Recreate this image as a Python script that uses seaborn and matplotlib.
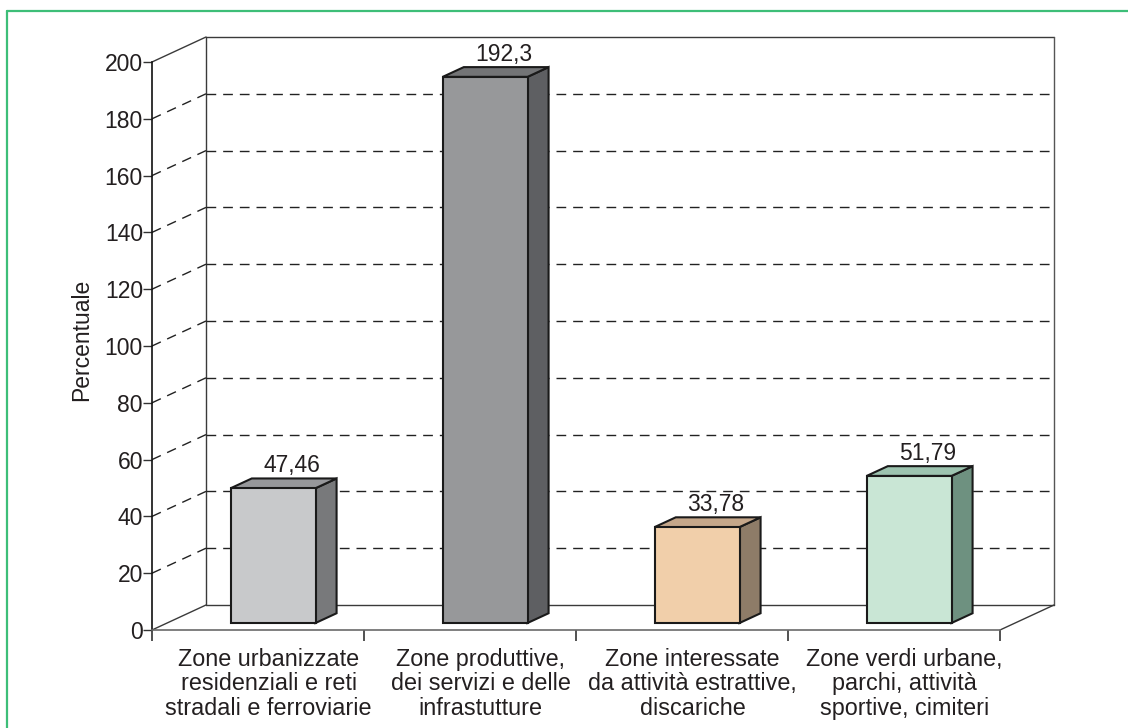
import numpy as np
import matplotlib
matplotlib.use('Agg')
import matplotlib.pyplot as plt
from matplotlib.patches import Polygon
from matplotlib.lines import Line2D
import seaborn as sns

# Data
categories = [
    "Zone urbanizzate\nresidenziali e reti\nstradali e ferroviarie",
    "Zone produttive,\ndei servizi e delle\ninfrastutture",
    "Zone interessate\nda attività estrattive,\ndiscariche",
    "Zone verdi urbane,\nparchi, attività\nsportive, cimiteri",
]
values = [47.46, 192.3, 33.78, 51.79]
yticks = [0, 20, 40, 60, 80, 100, 120, 140, 160, 180, 200]

front_colors = ['#C8C9CB', '#97989A', '#F1CFAA', '#C9E6D5']
top_colors = ['#96979A', '#737476', '#C5A78A', '#9DC4B0']
side_colors = ['#78797B', '#5E5F62', '#8E7C68', '#6E9180']

TXT = '#231F20'

sns.set_style('white')
plt.rcParams['font.family'] = ['Liberation Sans', 'DejaVu Sans']

fig = plt.figure(figsize=(11.28, 7.28), dpi=100)
ax = fig.add_axes([152 / 1128, 98 / 728, 848 / 1128, 568 / 728])

# 3D depth vector (in data units) and bar depth placement
DX, DY = 54 / 212, 25 / 2.84
d0, d1 = 0.28, 0.67
BW = 0.40

sns.barplot(x=list(range(len(values))), y=values, hue=list(range(len(values))),
            palette=front_colors, legend=False, width=BW, ax=ax,
            edgecolor='#1a1a1a', linewidth=1.5, saturation=1, zorder=5)

ax.set_xlim(-0.5, 3.5)
ax.set_ylim(0, 200)

# back wall & left wall
x0, x1 = -0.5, 3.5
wall = dict(color='#3a3a3a', lw=1.0, clip_on=False, zorder=1)
ax.plot([x0 + DX, x1 + DX], [200 + DY, 200 + DY], **wall)
ax.plot([x1 + DX, x1 + DX], [DY, 200 + DY], color='#555555', lw=1.0, clip_on=False, zorder=1)
ax.plot([x0 + DX, x0 + DX], [DY, 200 + DY], **wall)
ax.plot([x0 + DX, x1 + DX], [DY, DY], **wall)
ax.plot([x0, x0 + DX], [200, 200 + DY], **wall)
ax.plot([x0, x0 + DX], [0, DY], **wall)
ax.plot([x1, x1 + DX], [0, DY], **wall)

for v in yticks[1:-1]:
    dash = dict(color='#222222', lw=1.0, ls=(0, (7, 5)), clip_on=False, zorder=1)
    ax.plot([x0 + DX, x1 + DX], [v + DY, v + DY], **dash)
    ax.plot([x0, x0 + DX], [v, v + DY], **dash)

# 3D bar faces
for i, (p, v) in enumerate(zip(ax.patches, values)):
    p.set_x(p.get_x() + d0 * DX)
    p.set_y(d0 * DY)
    bx0 = p.get_x()
    bx1 = bx0 + p.get_width()
    by0 = d0 * DY
    by1 = by0 + v
    ddx, ddy = (d1 - d0) * DX, (d1 - d0) * DY
    side = Polygon([(bx1, by0), (bx1 + ddx, by0 + ddy), (bx1 + ddx, by1 + ddy), (bx1, by1)],
                   closed=True, facecolor=side_colors[i], edgecolor='#1a1a1a',
                   lw=1.5, zorder=4, clip_on=False)
    top = Polygon([(bx0, by1), (bx1, by1), (bx1 + ddx, by1 + ddy), (bx0 + ddx, by1 + ddy)],
                  closed=True, facecolor=top_colors[i], edgecolor='#1a1a1a',
                  lw=1.5, zorder=4, clip_on=False)
    ax.add_patch(side)
    ax.add_patch(top)
    p.set_clip_on(False)
    ax.text(i + 0.158, v + 8.2, str(v).replace('.', ','), ha='center', va='baseline',
            fontsize=16.5, color=TXT, zorder=6)

# axes styling
for s in ['top', 'right']:
    ax.spines[s].set_visible(False)
ax.spines['left'].set_color('#111111')
ax.spines['left'].set_linewidth(1.2)
ax.spines['bottom'].set_color('#6a6a6a')
ax.spines['bottom'].set_linewidth(1.2)

ax.set_yticks(yticks)
ax.set_yticklabels([str(t) for t in yticks], fontsize=16.5, color=TXT)
ax.tick_params(axis='y', length=6.5, width=1.0, pad=0, color='#333333', left=True)
ax.set_xticks([-0.5, 0.5, 1.5, 2.5, 3.5])
ax.set_xticklabels([])
ax.tick_params(axis='x', length=7.7, width=1.2, color='#333333', bottom=True)
ax.set_xlabel('')

for i, c in enumerate(categories):
    ax.text(i + 0.05, -0.031, c, transform=ax.get_xaxis_transform(), ha='center', va='top',
            fontsize=16.8, color=TXT, linespacing=1.1)

ax.set_ylabel('Percentuale', fontsize=16.5, color=TXT, va='center')
ax.yaxis.set_label_coords(-0.0825, 0.51)

ax.set_facecolor('none')
ax.grid(False)

# green frame
gc = '#3DBE78'
fig.add_artist(Line2D([7 / 1128, 1.0], [1 - 11 / 728, 1 - 11 / 728], color=gc, lw=1.6))
fig.add_artist(Line2D([7 / 1128, 7 / 1128], [0.0, 1 - 11 / 728], color=gc, lw=1.6))

fig.savefig('out.png', dpi=100)
